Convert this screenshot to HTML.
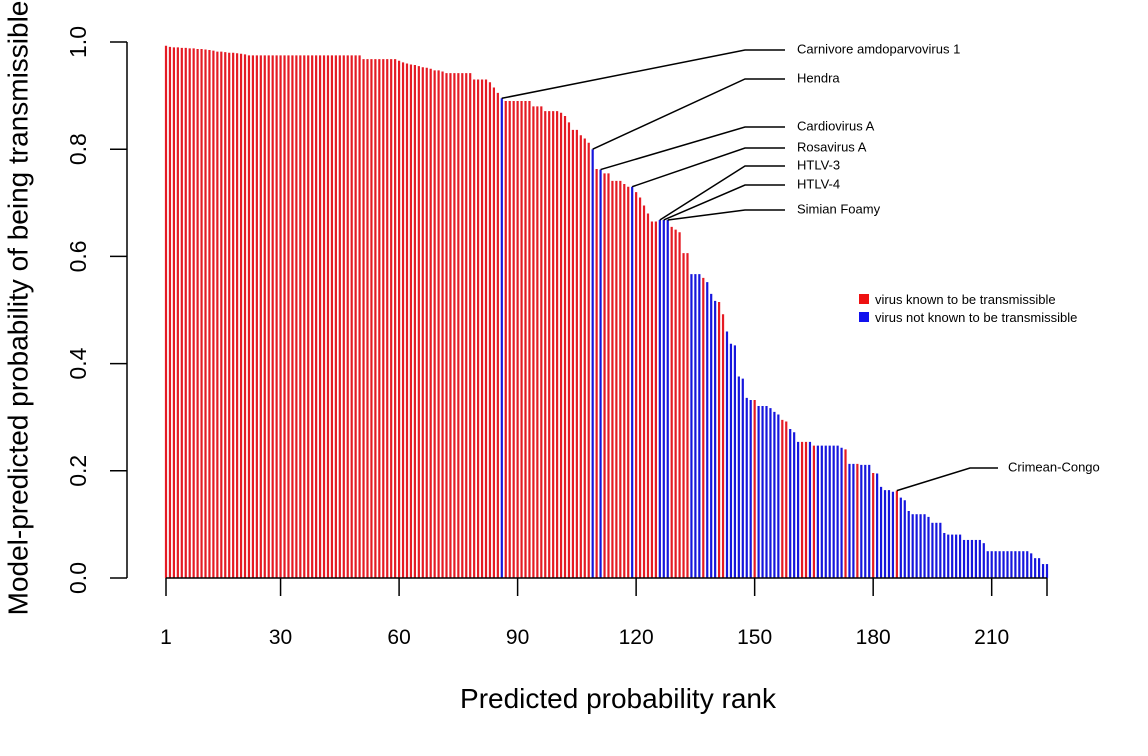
<!DOCTYPE html>
<html><head><meta charset="utf-8"><style>
html,body{margin:0;padding:0;background:#fff;}
svg{display:block;font-family:"Liberation Sans",Arial,sans-serif;}
</style></head><body>
<svg id="chart" width="1148" height="756" viewBox="0 0 1148 756" xmlns="http://www.w3.org/2000/svg">
<g id="bars"></g>
<g id="axes"></g>
<g id="ann"></g>
<text transform="translate(20,308) rotate(-90)" text-anchor="middle" dominant-baseline="middle" font-size="28" fill="#000">Model-predicted probability of being transmissible</text>
<text x="618" y="708" text-anchor="middle" font-size="28" fill="#000">Predicted probability rank</text>
<g>
<rect x="859" y="294" width="10" height="10" fill="#ee1111"/>
<text x="875" y="304" font-size="13" fill="#000">virus known to be transmissible</text>
<rect x="859" y="312" width="10" height="10" fill="#1111ee"/>
<text x="875" y="322" font-size="13" fill="#000">virus not known to be transmissible</text>
</g>
</svg>
<script>
const values = [
0.993,0.991,0.990,0.990,0.989,0.989,0.988,0.988,0.987,0.987,
0.986,0.985,0.984,0.982,0.982,0.981,0.980,0.980,0.979,0.978,
0.977,0.975,0.975,0.975,0.975,0.975,0.975,0.975,0.975,0.975,
0.975,0.975,0.975,0.975,0.975,0.975,0.975,0.975,0.975,0.975,
0.975,0.975,0.975,0.975,0.975,0.975,0.975,0.975,0.975,0.975,
0.968,0.968,0.968,0.968,0.968,0.968,0.968,0.968,0.968,0.965,
0.962,0.960,0.958,0.957,0.955,0.953,0.952,0.950,0.947,0.947,
0.945,0.942,0.942,0.942,0.942,0.942,0.942,0.942,0.930,0.930,
0.930,0.930,0.925,0.915,0.905,0.895,0.890,0.890,0.890,0.890,
0.890,0.890,0.890,0.880,0.880,0.880,0.871,0.871,0.871,0.871,
0.868,0.862,0.850,0.836,0.836,0.826,0.820,0.812,0.800,0.763,
0.762,0.755,0.755,0.741,0.741,0.741,0.735,0.730,0.730,0.720,
0.710,0.695,0.680,0.665,0.665,0.668,0.668,0.668,0.655,0.650,
0.645,0.606,0.606,0.567,0.567,0.567,0.560,0.552,0.530,0.517,
0.515,0.492,0.460,0.437,0.434,0.376,0.372,0.336,0.332,0.332,
0.321,0.321,0.321,0.317,0.310,0.305,0.295,0.292,0.278,0.272,
0.254,0.254,0.254,0.254,0.247,0.247,0.247,0.247,0.247,0.247,
0.247,0.243,0.240,0.213,0.213,0.213,0.211,0.211,0.211,0.196,
0.195,0.170,0.164,0.164,0.161,0.163,0.150,0.145,0.125,0.119,
0.119,0.119,0.119,0.114,0.103,0.103,0.103,0.084,0.081,0.081,
0.081,0.081,0.071,0.071,0.071,0.071,0.071,0.065,0.050,0.050,
0.050,0.050,0.050,0.050,0.050,0.050,0.050,0.050,0.050,0.046,
0.037,0.037,0.026,0.026];
const blueRanks = [86,109,111,119,126,127,128,134,135,136,138,139,140,143,144,145,146,147,148,149,
151,152,153,154,155,156,159,160,161,164,166,167,168,169,170,171,172,174,175,177,178,179,
181,182,183,184,185,187,188,189,190,191,192,193,194,195,196,197,198,199,200,201,202,203,204,
205,206,207,208,209,210,211,212,213,214,215,216,217,218,219,220,221,222,223,224];
const xTicks = [1,30,60,90,120,150,180,210];
const yTicks = [0.0,0.2,0.4,0.6,0.8,1.0];
const yTickLabels = ["0.0","0.2","0.4","0.6","0.8","1.0"];
const annNames = ["Carnivore amdoparvovirus 1","Hendra","Cardiovirus A","Rosavirus A","HTLV-3","HTLV-4","Simian Foamy","Crimean-Congo"];
const annRanks = [86,109,111,119,126,127,128,186];
const annLabelY = [50,79,127,148,166,185,210,468];

const NS="http://www.w3.org/2000/svg";
const x = r => 166 + (r-1)*(1047-166)/223;
const y = v => 578 - 536*v;
function mk(tag, attrs, parent){const e=document.createElementNS(NS,tag);for(const k in attrs)e.setAttribute(k,attrs[k]);parent.appendChild(e);return e;}
const bars=document.getElementById('bars'), axes=document.getElementById('axes'), ann=document.getElementById('ann');
values.forEach((v,i)=>{
  const r=i+1;
  const blue=blueRanks.includes(r);
  const b=mk('line',{x1:x(r),x2:x(r),y1:y(0),y2:y(v),stroke:blue?'#1616dd':'#e51b24','stroke-width':2.2},bars);
  
  
});
const xl=mk('line',{x1:x(1),x2:x(values.length),y1:578,y2:578,stroke:'#000','stroke-width':1.5},axes);


xTicks.concat([values.length]).forEach((t,i)=>{
  const tk=mk('line',{x1:x(t),x2:x(t),y1:578,y2:596,stroke:'#000','stroke-width':1.5},axes);
  
  
  if(i<xTicks.length){
    const tl=mk('text',{x:x(t),y:644,'text-anchor':'middle','font-size':21,fill:'#000'},axes);
    tl.textContent=t;
    
    
  }
});
const yl=mk('line',{x1:127,x2:127,y1:y(0),y2:y(1),stroke:'#000','stroke-width':1.5},axes);


yTicks.forEach((t,i)=>{
  const tk=mk('line',{x1:110,x2:127,y1:y(t),y2:y(t),stroke:'#000','stroke-width':1.5},axes);
  
  
  const tl=mk('text',{transform:`translate(80,${y(t)}) rotate(-90)`,'text-anchor':'middle','dominant-baseline':'middle','font-size':23,fill:'#000'},axes);
  tl.textContent=yTickLabels[i];
  
  
});
annNames.forEach((n,i)=>{
  const r=annRanks[i], v=values[r-1];
  const last=i===annNames.length-1;
  const kx=last?970:745, ex=last?998:785, tx=last?1008:797;
  const p=mk('polyline',{points:`${x(r)},${y(v)} ${kx},${annLabelY[i]} ${ex},${annLabelY[i]}`,fill:'none',stroke:'#000','stroke-width':1.5},ann);
  
  
  const t=mk('text',{x:tx,y:annLabelY[i],'dominant-baseline':'middle','font-size':13,fill:'#000'},ann);
  t.textContent=n;
  
  
});
</script>
</body></html>
